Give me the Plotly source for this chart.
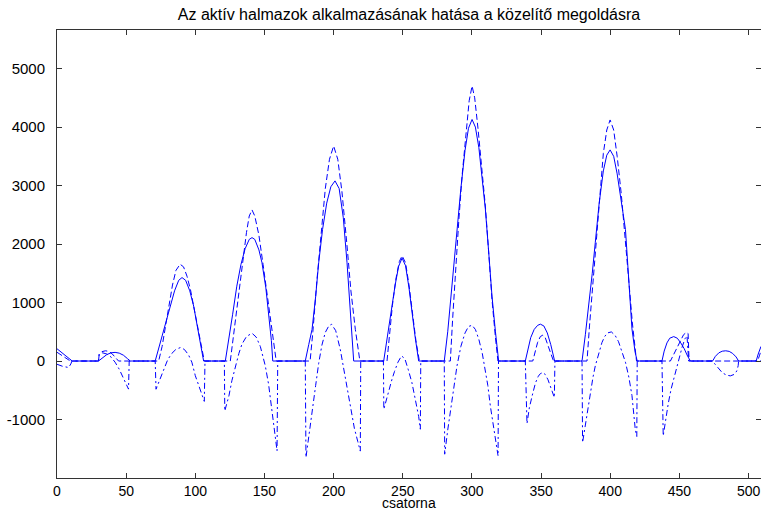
import plotly.graph_objects as go

# ---- data ----
solid_x = [0, 2, 4, 6, 8, 10, 11,
           30, 33, 36, 39, 42, 45, 48, 51, 53,
           71, 73, 75, 77, 79.5, 82, 85, 88, 90.4, 93, 96, 98.8, 100.5, 102.5, 104.5, 106,
           121.7, 124, 127, 130, 133, 136, 139, 141, 143, 146, 148.2, 151, 153, 155, 156,
           179.5, 182, 184.4, 187, 189.2, 192, 195, 198, 201, 204, 207, 209.7, 212.1, 214.5,
           236.2, 238.5, 240.5, 242.2, 244.5, 247, 249.5, 252, 254.5, 256.6, 259, 261.5,
           280, 282.5, 285, 287, 289.2, 292, 295, 297.5, 300.1, 302.5, 305, 307.5, 309.7, 312, 314.5, 317, 319.3,
           338.6, 340.5, 342.5, 345, 347.5, 349.5, 352, 354.5, 357, 359.8,
           379.6, 382, 384.5, 387, 389.2, 392, 395, 397.5, 399.9, 402.5, 405, 408, 411, 413.5, 415.7, 418, 419.5,
           437.4, 439, 441, 443, 445.9, 448.5, 451, 453.5, 456, 458,
           474, 476, 478.5, 481, 483.5, 486, 488.5, 491, 492.8,
           505.5, 507, 509]
solid_y = [210, 170, 125, 85, 45, 10, 0,
           0, 60, 110, 140, 148, 135, 100, 40, 0,
           0, 170, 330, 520, 710, 950, 1200, 1380, 1427, 1380, 1200, 940, 700, 450, 200, 0,
           0, 330, 800, 1280, 1650, 1920, 2080, 2110, 2080, 1900, 1680, 1250, 830, 350, 0,
           0, 280, 540, 1100, 1680, 2250, 2700, 2980, 3080, 2950, 2450, 1680, 830, 0,
           0, 330, 680, 940, 1300, 1620, 1760, 1630, 1250, 830, 400, 0,
           0, 500, 1150, 1750, 2250, 2950, 3600, 3980, 4130, 4000, 3650, 3150, 2600, 1900, 1110, 500, 0,
           0, 220, 400, 540, 610, 630, 600, 480, 280, 0,
           0, 450, 950, 1500, 2030, 2700, 3250, 3520, 3610, 3500, 3200, 2750, 2250, 1350, 550, 150, 0,
           0, 170, 310, 390, 418, 390, 310, 210, 80, 0,
           0, 80, 140, 168, 175, 165, 130, 70, 0,
           0, 120, 250]

dashed_x = [0, 3, 6, 9, 10,
            30, 30.5, 32.5, 35, 37.5, 40, 42.5, 44.5,
            73.5, 76, 78.5, 81, 83.5, 86, 89, 91.5, 94, 96.5, 99, 101.5, 104, 106.5,
            125.3, 128, 131, 134, 137, 139, 141, 143, 146, 149, 152, 155, 157.5, 158.5,
            183, 185, 188, 191, 194, 197, 200, 203, 206, 209.7, 212.5, 215.7, 218, 219,
            238.6, 240.5, 242.5, 245, 247.5, 249.5, 252, 254.5, 257, 259.5, 262,
            284.4, 286, 288, 290.5, 293, 295.5, 298, 300.1, 302, 304.5, 307, 309.7, 312, 314.5, 317, 318.8,
            344, 345.5, 347.5, 349.5, 351.2, 353, 355, 357, 359,
            383.2, 385, 387.5, 390, 392.5, 395, 397.5, 399.9, 402.5, 405, 408, 411, 413.5, 416, 418, 419,
            443.5, 446, 448.5, 451, 453, 455, 456.3, 457,
            506.5, 508, 509]
dashed_y = [150, 100, 50, 10, 0,
            0, 110, 160, 175, 165, 120, 60, 0,
            0, 250, 600, 950, 1300, 1550, 1655, 1610, 1450, 1220, 920, 600, 300, 0,
            0, 500, 1100, 1700, 2200, 2480, 2583, 2480, 2150, 1650, 1100, 550, 150, 0,
            0, 500, 1400, 2250, 2950, 3450, 3677, 3450, 2900, 1970, 1200, 540, 150, 0,
            0, 450, 950, 1400, 1700, 1800, 1680, 1300, 800, 350, 0,
            0, 700, 1500, 2400, 3200, 3900, 4450, 4703, 4500, 3950, 3300, 2650, 1900, 1050, 400, 0,
            0, 150, 320, 420, 441, 400, 280, 130, 0,
            0, 600, 1350, 2150, 2900, 3550, 3950, 4122, 3950, 3500, 2850, 2100, 1350, 650, 200, 0,
            0, 120, 250, 370, 450, 487, 470, 0,
            0, 100, 180]

dashdot_x = [0, 2, 4, 6, 8.4, 10, 10.8,
             30, 30.5, 33, 36, 39, 42, 45, 48, 50, 51.7, 52.2,
             71, 71.6, 74, 77, 80, 83, 86, 89.2, 92, 95, 97.5, 100, 103, 106.5, 107,
             121, 121.3, 124.3, 126.5, 128.9, 131.5, 133.7, 137, 141, 144, 147, 150.6, 153, 155.4, 157.5, 159.1, 159.6,
             179.5, 180, 182, 184.4, 187, 189.2, 191.5, 194, 196.5, 198.5, 201.5, 204.8, 207.3, 210, 212.1, 215, 217.5, 219.3, 219.6,
             236, 236.3, 238.5, 241, 242.2, 244, 246.5, 249.1, 251.5, 254, 256.6, 259, 261.5, 262.7, 263,
             280, 280.3, 282.5, 284.4, 287, 289.2, 292, 295, 297.5, 300.1, 302.5, 305, 307.5, 309.7, 311.5, 313.3, 315.5, 317.5, 318.9, 319.2,
             338.6, 339.8, 341.5, 344, 346, 348, 349.5, 351.3, 353, 355, 357, 359.6, 360,
             379.6, 380, 382.5, 385, 387.5, 389.2, 392, 394, 396, 398, 400.8, 403.5, 406, 408.5, 411, 413.5, 415.7, 418.1, 419.2, 419.5,
             437.4, 438.3, 440, 442, 444, 446, 448, 450, 452, 454, 455.5, 456.7,
             474, 476, 478.5, 481, 484, 486.8, 489.5, 491.5, 492.5, 492.8,
             505.5, 509]
dashdot_y = [-55, -75, -90, -100, -111, -50, 0,
             0, 120, 140, 120, 70, -20, -140, -280, -390, -480, 0,
             0, -482, -330, -150, 20, 130, 200, 230, 200, 110, -20, -250, -470, -690, 0,
             0, -853, -596, -330, -83, 130, 287, 420, 475, 410, 250, -83, -400, -880, -1220, -1536, 0,
             0, -1650, -1270, -880, -420, -40, 270, 490, 600, 629, 520, 200, -140, -520, -820, -1150, -1380, -1540, 0,
             0, -824, -620, -400, -311, -180, -20, 88, 40, -150, -368, -650, -950, -1166, 0,
             0, -1593, -1180, -880, -450, -83, 250, 480, 590, 612, 540, 370, 130, -140, -420, -767, -1100, -1400, -1622, 0,
             0, -1070, -800, -550, -370, -260, -215, -197, -230, -320, -440, -624, 0,
             0, -1394, -1000, -620, -280, -83, 150, 316, 420, 480, 498, 440, 330, 170, -20, -280, -590, -1170, -1290, 0,
             0, -1280, -1000, -720, -480, -290, -100, 80, 240, 380, 430, 0,
             0, -60, -140, -200, -240, -254, -230, -170, -80, 0,
             0, 0]

x_ticks = [0, 50, 100, 150, 200, 250, 300, 350, 400, 450, 500]
y_ticks = [-1000, 0, 1000, 2000, 3000, 4000, 5000]

title_text = "Az aktív halmazok alkalmazásának hatása a közelítő megoldásra"
x_label = "csatorna"

BLUE = "#0000ff"
FONT = "Liberation Sans, Arial, sans-serif"

fig = go.Figure()
fig.add_trace(go.Scatter(x=solid_x, y=solid_y, mode="lines",
                         line=dict(color=BLUE, width=1)))
fig.add_trace(go.Scatter(x=dashed_x, y=dashed_y, mode="lines",
                         line=dict(color=BLUE, width=1, dash="6px,3px")))
fig.add_trace(go.Scatter(x=dashdot_x, y=dashdot_y, mode="lines",
                         line=dict(color=BLUE, width=1, dash="6px,3px,2px,3px")))

axis_common = dict(
    showgrid=False, zeroline=False,
    showline=True, linecolor="#333333", linewidth=1,
    mirror="ticks", ticks="inside", ticklen=5, tickcolor="#333333",
    ticklabeloverflow="allow",
)

fig.update_layout(
    width=761, height=513,
    margin=dict(l=57, r=0, t=30, b=35),
    paper_bgcolor="white", plot_bgcolor="white",
    showlegend=False,
    title=dict(text=title_text, xref="paper", x=0.5, xanchor="center",
               yref="container", y=0.972, yanchor="middle",
               font=dict(family=FONT, size=16, color="black")),
    xaxis=dict(range=[0, 509], tickvals=x_ticks, ticktext=[str(v) for v in x_ticks],
               ticklabelstandoff=0, tickfont=dict(family=FONT, size=14, color="black"),
               **axis_common),
    yaxis=dict(range=[-2000, 5660], tickvals=y_ticks, ticktext=[str(v) for v in y_ticks],
               ticklabelstandoff=8, tickfont=dict(family=FONT, size=15, color="black"),
               **axis_common),
    annotations=[dict(text=x_label, xref="paper", yref="paper", x=0.5, y=-0.0772,
                      xanchor="center", yanchor="bottom", showarrow=False,
                      font=dict(family=FONT, size=14, color="black"))],
)

fig.write_html("out.html")
